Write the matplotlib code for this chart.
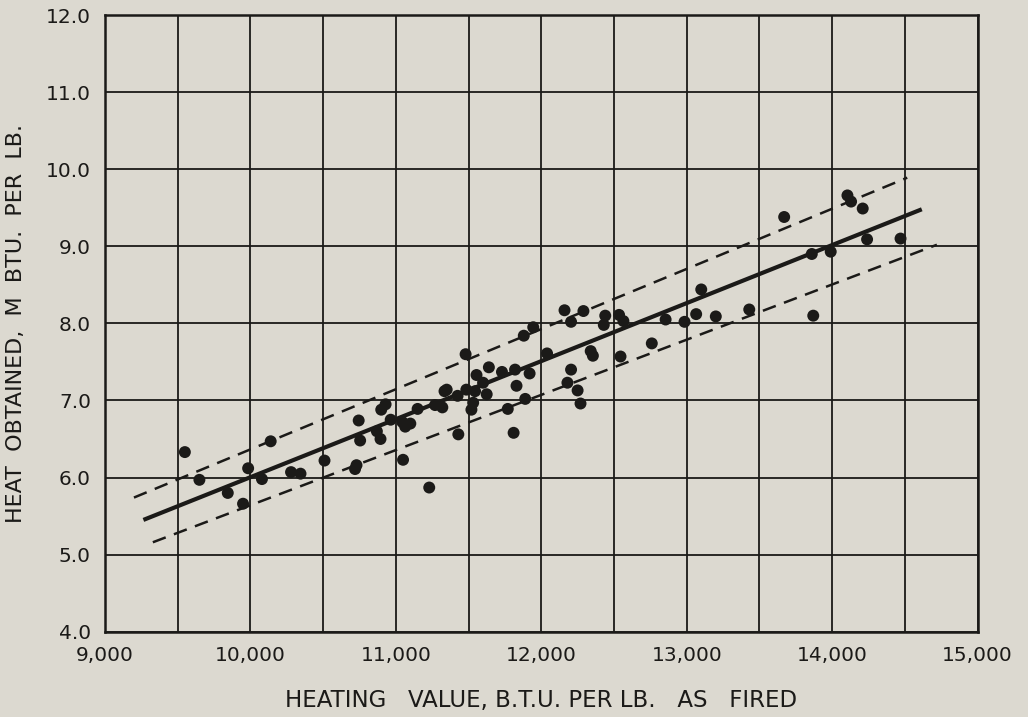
import matplotlib
matplotlib.use("Agg")
import matplotlib.pyplot as plt
import numpy as np

# heating value (B.T.U. per lb. as fired) vs heat obtained (M B.T.U. per lb.)
heating_value = [9550, 9650, 9845, 9950, 9985, 10080, 10140, 10280, 10345, 10510,
                 10720, 10730, 10745, 10755, 10870, 10895, 10900, 10930, 10965, 11045,
                 11050, 11065, 11100, 11150, 11230, 11270, 11320, 11335, 11350, 11425,
                 11430, 11480, 11485, 11520, 11532, 11545, 11555, 11600, 11625, 11640,
                 11730, 11770, 11810, 11820, 11830, 11880, 11890, 11920, 11945, 12040,
                 12160, 12180, 12205, 12205, 12250, 12270, 12290, 12340, 12355, 12430,
                 12440, 12535, 12545, 12565, 12760, 12855, 12985, 13065, 13100, 13200,
                 13430, 13670, 13860, 13870, 13990, 14105, 14130, 14210, 14240, 14470]
heat_obtained = [6.33, 5.97, 5.80, 5.66, 6.12, 5.98, 6.47, 6.07, 6.05, 6.22,
                 6.11, 6.16, 6.74, 6.48, 6.60, 6.50, 6.88, 6.95, 6.75, 6.72,
                 6.23, 6.66, 6.70, 6.89, 5.87, 6.94, 6.91, 7.12, 7.14, 7.06,
                 6.56, 7.60, 7.14, 6.88, 6.97, 7.12, 7.33, 7.23, 7.08, 7.43,
                 7.37, 6.89, 6.58, 7.40, 7.19, 7.84, 7.02, 7.35, 7.95, 7.61,
                 8.17, 7.23, 8.02, 7.40, 7.13, 6.96, 8.16, 7.64, 7.58, 7.98,
                 8.10, 8.11, 7.57, 8.03, 7.74, 8.05, 8.02, 8.12, 8.44, 8.09,
                 8.18, 9.38, 8.90, 8.10, 8.93, 9.66, 9.58, 9.49, 9.09, 9.10]

# fitted line and the two dashed limit lines
fit_x = [9265, 14616]
fit_y = [5.45, 9.48]
upper_x = [9200, 14516]
upper_y = [5.74, 9.89]
lower_x = [9330, 14720]
lower_y = [5.16, 9.02]

xticks = [9000, 10000, 11000, 12000, 13000, 14000, 15000]
xticklabels = ["9,000", "10,000", "11,000", "12,000", "13,000", "14,000", "15,000"]
yticks = [4, 5, 6, 7, 8, 9, 10, 11, 12]
yticklabels = ["4.0", "5.0", "6.0", "7.0", "8.0", "9.0", "10.0", "11.0", "12.0"]

bg = "#dcd9d0"
ink = "#1b1a18"
plt.rcParams["font.family"] = ["DejaVu Sans"]

fig = plt.figure(figsize=(10.28, 7.17), dpi=100, facecolor=bg)
ax = fig.add_axes([0.102, 0.119, 0.849, 0.860], facecolor=bg)

# grid: every 500 B.T.U. and every 1.0 M B.T.U.
for gx in np.arange(9000, 15001, 500):
    ax.axvline(gx, color=ink, lw=1.3, zorder=1)
for gy in yticks:
    ax.axhline(gy, color=ink, lw=1.3, zorder=1)

ax.plot(fit_x, fit_y, color=ink, lw=3.0, solid_capstyle="butt", zorder=3)
ax.plot(upper_x, upper_y, color=ink, lw=1.8, dashes=(5.5, 3.5), zorder=3)
ax.plot(lower_x, lower_y, color=ink, lw=1.8, dashes=(5.5, 3.5), zorder=3)
ax.scatter(heating_value, heat_obtained, s=74, color=ink, edgecolors="none", zorder=4)

ax.set_xlim(9000, 15000)
ax.set_ylim(4, 12)
ax.set_xticks(xticks)
ax.set_xticklabels(xticklabels)
ax.set_yticks(yticks)
ax.set_yticklabels(yticklabels)
ax.tick_params(length=0, labelsize=14.5, colors=ink)
ax.tick_params(axis="x", pad=10)
ax.tick_params(axis="y", pad=10)
for s in ax.spines.values():
    s.set_linewidth(1.8)
    s.set_color(ink)

ax.set_xlabel("HEATING   VALUE, B.T.U. PER LB.   AS   FIRED", fontsize=16.5, color=ink)
ax.xaxis.set_label_coords(0.5, -0.093)
ax.set_ylabel("HEAT  OBTAINED,  M  BTU.  PER  LB.", fontsize=16, color=ink)
ax.yaxis.set_label_coords(-0.090, 0.50)

fig.savefig("out.png", dpi=100, facecolor=bg)
